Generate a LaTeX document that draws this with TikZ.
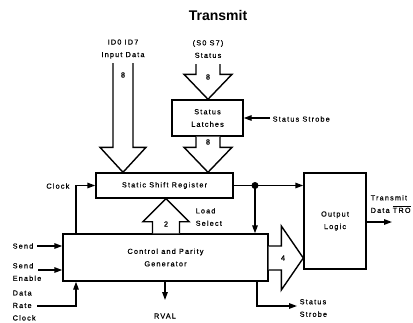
\documentclass[tikz,border=0pt]{standalone}
\usepackage{fontspec}
\setmainfont{Liberation Sans}
\newfontfamily\diagfont[LetterSpace=16, FakeBold=0.6]{Liberation Sans}
\usetikzlibrary{arrows.meta, calc}
\newcommand\lbl{\diagfont\fontsize{7.3}{12.5}\selectfont}
\tikzset{
  every picture/.style={x=1pt, y=-1pt, line width=1.4pt},
  blk/.style={draw, inner sep=0pt, align=center, font=\lbl},
  sig/.style={-{Triangle[length=8pt, width=5.5pt]}},
  bus/.style={draw, fill=white, line join=miter},
  txt/.style={font=\lbl, align=#1, inner sep=0pt},
  txt/.default=center,
}
% fat bus arrow: from, tip, shaft half width, head half width, head length
\newcommand\bus[5]{%
  \coordinate (hb) at ($(#2)!#5!(#1)$);
  \draw[bus] ($(#1)!#3!90:(#2)$) -- ($(hb)!#3!90:(#2)$) -- ($(hb)!#4!90:(#2)$)
    -- (#2) -- ($(hb)!#4!-90:(#2)$) -- ($(hb)!#3!-90:(#2)$) -- ($(#1)!#3!-90:(#2)$);
}
\begin{document}
\begin{tikzpicture}
  \useasboundingbox (0,0) rectangle (413,322);
  \node[font=\bfseries\fontsize{14}{16}\selectfont] (title) at (218,15) {Transmit};

  % blocks
  \node[blk, minimum width=71pt, minimum height=36pt] (latch) at (207.5,118) {Status\\Latches};
  \node[blk, minimum width=137pt, minimum height=25pt] (reg) at (164.5,185.5) {Static Shift Register};
  \node[blk, minimum width=205pt, minimum height=47pt] (ctrl) at (165.5,257.5) {Control and Parity\\Generator};
  \node[blk, minimum width=62pt, minimum height=96pt] (outl) at (335,221) {Output\\Logic};

  % buses
  \coordinate (din) at (123,63);
  \coordinate (sin) at (208,64);
  \coordinate (ld) at (166,0);
  \coordinate (four) at (0,258);
  \bus{din}{din |- reg.north}{10pt}{23pt}{25pt}
  \bus{sin}{sin |- latch.north}{12pt}{24pt}{25pt}
  \bus{latch.south -| sin}{sin |- reg.north}{12pt}{24pt}{25pt}
  \bus{ld |- ctrl.north}{ld |- reg.south}{13.5pt}{23pt}{23pt}
  \bus{ctrl.east |- four}{outl.west |- four}{12pt}{32pt}{22pt}
  \node[txt] (w1) at (123,75) {8};
  \node[txt] (w2) at (208,77) {8};
  \node[txt] (w3) at (208,142) {8};
  \node[txt] (w4) at (166,224) {2};
  \node[txt] (w5) at (283,258) {4};

  % bus labels
  \node[txt] (idl) at (123,49) {ID0 ID7\\Input Data};
  \node[txt] (stl) at (208,49) {(S0 S7)\\Status};
  \node[txt=left, anchor=west] (ldl) at (195,217) {Load\\Select};

  % signals
  \coordinate (clk) at (76,0);
  \coordinate (tap) at (255,0);
  \coordinate (ssx) at (257,0);
  \coordinate (ssi) at (270,118);
  \coordinate (txd) at (392,222);
  \coordinate (send) at (37,246);
  \coordinate (sen) at (38,270);
  \coordinate (drc) at (37,306);
  \coordinate (rval) at (165,300);
  \coordinate (sso) at (297,306);
  \draw[sig] (ssi) -- (latch.east);
  \draw[sig] (clk |- ctrl.north) |- (reg.west);
  \draw[sig] (reg.east) -- (reg.east -| outl.west);
  \fill (tap |- reg.east) circle (3.5);
  \draw[sig] (tap |- reg.east) -- (tap |- ctrl.north);
  \draw[sig] (outl.east |- txd) -- (txd);
  \draw[sig] (send) -- (send -| ctrl.west);
  \draw[sig] (sen) -- (sen -| ctrl.west);
  \draw[sig] (drc) -| (clk |- ctrl.south);
  \draw[sig] (rval |- ctrl.south) -- (rval);
  \draw[sig] (ssx |- ctrl.south) |- (sso);

  % signal labels
  \node[txt, anchor=west] (ssil) at (272,119) {Status Strobe};
  \node[txt, anchor=east] (clkl) at (70,186) {Clock};
  \node[txt=left, anchor=west] (txdl) at (370,204) {Transmit\\Data $\overline{\mbox{TRO}}$};
  \node[txt, anchor=west] (sendl) at (12,246) {Send};
  \node[txt=left, anchor=west] (senl) at (12,272) {Send\\Enable};
  \node[txt=left, anchor=west] (drcl) at (12,305.5) {Data\\Rate\\Clock};
  \node[txt] (rvall) at (165,316) {RVAL};
  \node[txt=left, anchor=west] (ssol) at (299,308) {Status\\Strobe};
\end{tikzpicture}
\end{document}
